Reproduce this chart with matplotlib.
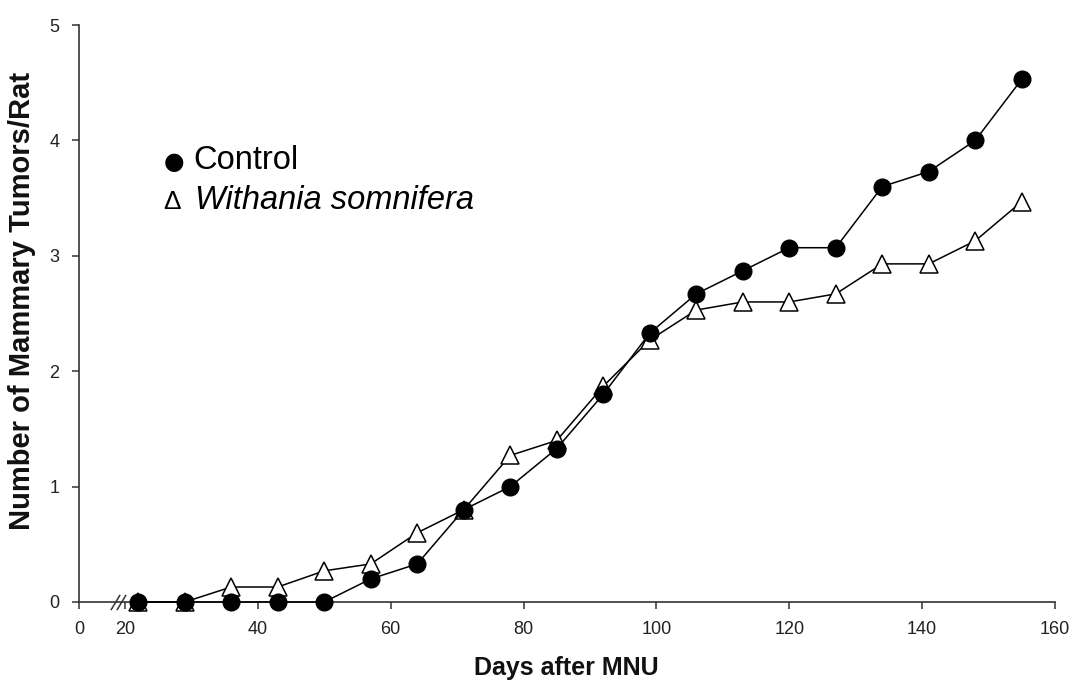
import numpy as np
import matplotlib
matplotlib.use('Agg')
import matplotlib.pyplot as plt

days = [22, 29, 36, 43, 50, 57, 64, 71, 78, 85, 92, 99, 106, 113, 120, 127, 134, 141, 148, 155]
control = [0, 0, 0, 0, 0, 0.2, 0.33, 0.8, 1.0, 1.33, 1.8, 2.33, 2.67, 2.87, 3.07, 3.07, 3.6, 3.73, 4.0, 4.53]
withania = [0, 0, 0.13, 0.13, 0.27, 0.33, 0.6, 0.8, 1.27, 1.4, 1.87, 2.27, 2.53, 2.6, 2.6, 2.67, 2.93, 2.93, 3.13, 3.47]
x_ticks = [0, 20, 40, 60, 80, 100, 120, 140, 160]
y_ticks = [0, 1, 2, 3, 4, 5]

plt.rcParams['font.family'] = ['Liberation Sans', 'DejaVu Sans']

# squeeze the 0-20 part of the axis (broken axis)
k = 0.346
def fwd(x):
    x = np.asarray(x, dtype=float)
    return np.where(x < 20, 20 - (20 - x) * k, x)

def inv(x):
    x = np.asarray(x, dtype=float)
    return np.where(x < 20, 20 - (20 - x) / k, x)

fig = plt.figure(figsize=(10.72, 6.81), dpi=100)
ax = fig.add_axes([79 / 1072, 1 - 602 / 681, 976 / 1072, 577 / 681])
ax.set_xscale('function', functions=(fwd, inv))

ax.plot(days, withania, color='black', lw=1.1, marker='^', markersize=13,
        markerfacecolor='white', markeredgecolor='black', markeredgewidth=1.1,
        clip_on=False, zorder=3)
ax.plot(days, control, color='black', lw=1.1, marker='o', markersize=12,
        markerfacecolor='black', markeredgecolor='black', clip_on=False, zorder=4)

ax.set_xlim(0, 160)
ax.set_ylim(0, 5)
ax.set_xticks(x_ticks)
ax.set_xticklabels([str(t) for t in x_ticks])
ax.set_yticks(y_ticks)
ax.set_yticklabels([str(t) for t in y_ticks])

for side in ['top', 'right']:
    ax.spines[side].set_visible(False)
for side in ['left', 'bottom']:
    ax.spines[side].set_color('#333333')
    ax.spines[side].set_linewidth(1.2)
ax.tick_params(axis='both', direction='out', length=5, width=1.1, color='#333333',
               labelsize=13, labelcolor='#222222')
ax.tick_params(axis='x', pad=9)
ax.tick_params(axis='y', pad=9)

# axis break marks
ax.plot([15.7, 18.3], [0, 0], linestyle='none', marker=[(-0.6, -1), (0.6, 1)],
        markersize=11, markeredgecolor='#333333', markeredgewidth=1.1,
        clip_on=False, zorder=5)

fig.text(566 / 1072, 1 - 675 / 681, 'Days after MNU', ha='center', va='baseline',
         fontsize=18, fontweight='bold', color='#111111')
fig.text(22 / 1072, 1 - 301 / 681, 'Number of Mammary Tumors/Rat', ha='center',
         va='center', rotation=90, fontsize=21, fontweight='bold', color='#111111')

# legend drawn as text, like the original
fig.text(164 / 1072, 1 - 162 / 681, '\u25cf', ha='left', va='center', fontsize=17,
         family=['DejaVu Sans'])
fig.text(193 / 1072, 1 - 169 / 681, 'Control', ha='left', va='baseline', fontsize=23.5)
fig.text(163 / 1072, 1 - 209 / 681, '\u0394', ha='left', va='baseline', fontsize=19)
fig.text(195 / 1072, 1 - 209 / 681, 'Withania somnifera', ha='left', va='baseline',
         fontsize=23.5, style='italic')

fig.savefig('out.png', dpi=100)
